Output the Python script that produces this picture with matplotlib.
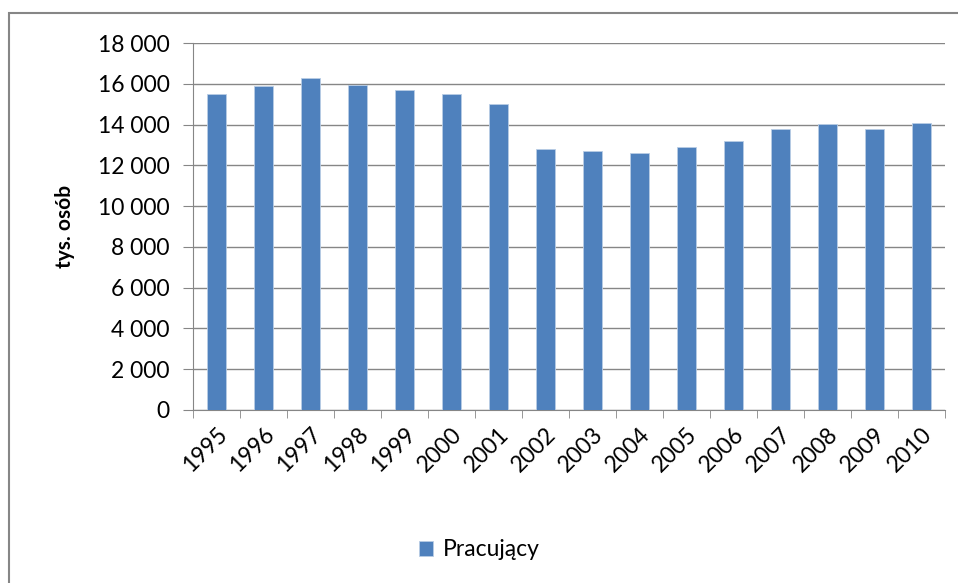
import matplotlib.pyplot as plt
from matplotlib.patches import Rectangle
from matplotlib.ticker import FuncFormatter

lata = ["1995", "1996", "1997", "1998", "1999", "2000", "2001", "2002",
        "2003", "2004", "2005", "2006", "2007", "2008", "2009", "2010"]
pracujacy = [15500, 15900, 16300, 15950, 15700, 15500, 15000, 12800,
             12700, 12600, 12900, 13200, 13800, 14050, 13800, 14100]
y_ticks = list(range(0, 18001, 2000))

plt.rcParams['font.family'] = ['Lato', 'DejaVu Sans']

fig = plt.figure(figsize=(9.58, 5.83), dpi=100)
# ramka wykresu
fig.patches.append(Rectangle((9 / 958, -0.01), 1.0, 1 - 13 / 583 + 0.01,
                             transform=fig.transFigure, fill=False,
                             edgecolor='#868686', linewidth=1.5))

ax = fig.add_axes([193 / 958, 1 - 410 / 583, (945 - 193) / 958, (410 - 43) / 583])

x = range(len(lata))
ax.bar(x, pracujacy, width=0.41, color='#4F81BD', edgecolor='#B9CDE5',
       linewidth=0.6, zorder=3, label='Pracujący')

ax.set_xlim(-0.5, len(lata) - 0.5)
ax.set_ylim(0, 18000)
ax.set_yticks(y_ticks)
ax.yaxis.set_major_formatter(FuncFormatter(lambda v, p: f"{int(v):,}".replace(",", " ")))
ax.grid(axis='y', color='#868686', linewidth=1.0, zorder=0)

ax.set_xticks(list(x))
ax.set_xticklabels(lata, rotation=45, ha='right', rotation_mode='anchor', fontsize=16.5)
ax.set_xticks([i - 0.5 for i in range(len(lata) + 1)], minor=True)
ax.tick_params(axis='x', which='major', length=0, pad=10)
ax.tick_params(axis='x', which='minor', length=6, color='#868686')
ax.tick_params(axis='y', length=7, color='#868686', labelsize=16.5, pad=10)

for side in ('top', 'right'):
    ax.spines[side].set_visible(False)
for side in ('left', 'bottom'):
    ax.spines[side].set_color('#868686')

ax.set_ylabel('tys. osób', fontsize=15, fontweight='bold', labelpad=16)

ax.legend(loc='center', bbox_to_anchor=(0.5, 1 - 550 / 583), bbox_transform=fig.transFigure,
          frameon=False, fontsize=16.5, handlelength=0.65, handleheight=0.65, handletextpad=0.4)

fig.savefig('out.png', dpi=100)
